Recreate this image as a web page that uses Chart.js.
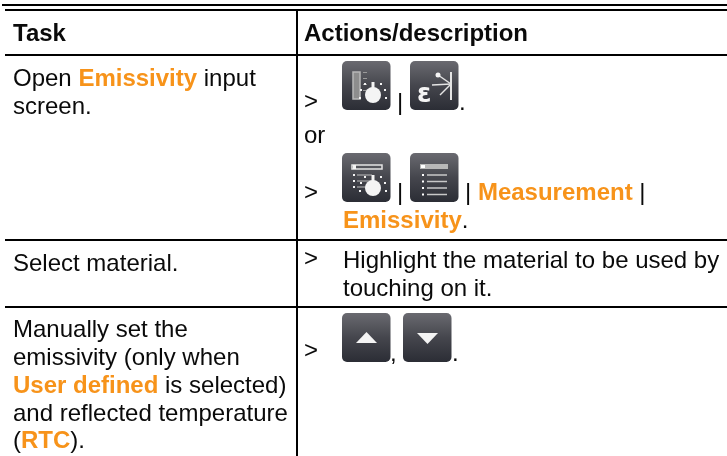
<!DOCTYPE html>
<html>
<head>
<meta charset="utf-8">
<style>
  html, body { margin: 0; padding: 0; background: #fff; }
  canvas { display: block; }
</style>
<script src="https://cdn.jsdelivr.net/npm/chart.js@4"></script>
</head>
<body>
<canvas id="tableChart" width="727" height="456"></canvas>
<script>
// Table content. Each line is a list of [text, style] runs: n = normal, h = header, o = orange bold
const tableLines = [
  [['Task', 'h']],
  [['Actions/description', 'h']],
  [['Open ', 'n'], ['Emissivity', 'o'], [' input', 'n']],
  [['screen.', 'n']],
  [['>', 'n']],
  [['|', 'n']],
  [['.', 'n']],
  [['or', 'n']],
  [['>', 'n']],
  [['|', 'n']],
  [['| ', 'n'], ['Measurement', 'o'], [' |', 'n']],
  [['Emissivity', 'o'], ['.', 'n']],
  [['Select material.', 'n']],
  [['>', 'n']],
  [['Highlight the material to be used by', 'n']],
  [['touching on it.', 'n']],
  [['Manually set the', 'n']],
  [['emissivity (only when', 'n']],
  [['User defined', 'o'], [' is selected)', 'n']],
  [['and reflected temperature', 'n']],
  [['(', 'n'], ['RTC', 'o'], [').', 'n']],
  [['>', 'n']],
  [[',', 'n']],
  [['.', 'n']]
];

// Where each table line starts (same order as tableLines)
const lineX = [13, 304, 13, 13, 304, 397, 459, 304, 304, 397, 465, 343, 13, 304, 343, 343, 13, 13, 13, 13, 13, 304, 390, 452];
const lineY = [41, 41, 86, 114, 109, 110, 110, 143, 200, 200, 200, 228, 271, 266, 268, 296, 337, 365, 393, 421, 448, 358, 361, 361];

// Table rules
const ruleNames = ['outer', 'top', 'header', 'row1', 'row2', 'column'];
const ruleX = [[2, 727], [5, 727], [5, 727], [5, 727], [5, 727], [297, 297]];
const ruleY = [[5, 5], [10, 10], [55, 55], [240, 240], [307, 307], [10, 456]];

// Button icons
const iconKinds = ['scale', 'emissivity', 'settings', 'list', 'up', 'down'];
const iconX = [342, 410, 342, 410, 342, 403];
const iconY = [61, 61, 153, 153, 313, 313];

const ORANGE = '#f7931a';
const FONT = '"Liberation Sans", Arial, sans-serif';

function setRunFont(ctx, style) {
  if (style === 'h') ctx.font = 'bold 24px ' + FONT;
  else if (style === 'o') ctx.font = 'bold 24px ' + FONT;
  else ctx.font = '24px ' + FONT;
  ctx.fillStyle = style === 'o' ? ORANGE : '#0a0a0a';
}

function drawGlyph(ctx, kind) {
  ctx.strokeStyle = '#e4e4e4';
  ctx.fillStyle = '#f4f4f4';
  ctx.lineWidth = 1.5;
  const line = (x1, y1, x2, y2) => { ctx.beginPath(); ctx.moveTo(x1, y1); ctx.lineTo(x2, y2); ctx.stroke(); };
  const dial = (cx, cy) => {
    ctx.beginPath(); ctx.arc(cx, cy, 8, 0, Math.PI * 2); ctx.fill();
    ctx.fillRect(cx - 1.5, cy - 13, 3, 8);
    for (const [dx, dy] of [[-12, -5], [12, -5], [-13, 3], [13, 3], [-8, -11], [8, -11]]) {
      ctx.fillRect(cx + dx - 1, cy + dy - 1, 2, 2);
    }
  };
  if (kind === 'scale') {
    ctx.fillStyle = '#8d8d8d';
    ctx.fillRect(11, 11, 7, 27);
    ctx.strokeStyle = '#b8b8b8';
    ctx.strokeRect(11, 11, 7, 27);
    ctx.fillStyle = '#9a9a9a';
    for (let i = 0; i < 4; i++) ctx.fillRect(21, 11 + i * 6, 4, 1);
    ctx.fillStyle = '#f4f4f4';
    dial(31, 34);
  } else if (kind === 'emissivity') {
    ctx.lineWidth = 2;
    line(41, 11, 41, 39);
    ctx.lineWidth = 1.5;
    line(41, 23, 22, 24);
    line(41, 23, 28, 14);
    line(41, 23, 30, 34);
    ctx.beginPath(); ctx.arc(28, 14, 2.5, 0, Math.PI * 2); ctx.fill();
    ctx.font = 'bold 26px "DejaVu Sans", sans-serif';
    ctx.fillText('\u03b5', 7, 41);
  } else if (kind === 'settings') {
    ctx.strokeRect(10, 12, 30, 4);
    ctx.fillRect(11, 12, 3, 4);
    ctx.strokeStyle = '#bdbdbd';
    ctx.lineWidth = 1;
    for (let i = 0; i < 3; i++) {
      ctx.fillRect(11, 21 + i * 6, 2, 2);
      line(15, 22 + i * 6, 30, 22 + i * 6);
    }
    dial(31, 35);
  } else if (kind === 'list') {
    ctx.fillStyle = '#b8b8b8';
    ctx.fillRect(10, 11, 28, 5);
    ctx.fillStyle = '#ffffff';
    ctx.fillRect(11, 12, 4, 3);
    ctx.strokeStyle = '#c8c8c8';
    ctx.lineWidth = 1.5;
    for (let i = 0; i < 4; i++) {
      ctx.fillRect(12, 21 + i * 6.5, 2, 2);
      line(17, 22 + i * 6.5, 37, 22 + i * 6.5);
    }
  } else {
    const tip = kind === 'up' ? 19 : 31;
    const base = kind === 'up' ? 30 : 20;
    ctx.beginPath();
    ctx.moveTo(14, base); ctx.lineTo(35, base); ctx.lineTo(24.5, tip);
    ctx.closePath();
    ctx.fill();
  }
}

function drawIcon(ctx, kind, x, y) {
  const w = 48.5, h = 49;
  const grad = ctx.createLinearGradient(0, y, 0, y + h);
  grad.addColorStop(0, '#6a6a70');
  grad.addColorStop(0.5, '#45464d');
  grad.addColorStop(1, '#2b2d35');
  ctx.save();
  ctx.fillStyle = grad;
  ctx.beginPath();
  ctx.roundRect(x, y, w, h, 5);
  ctx.fill();
  ctx.translate(x, y);
  ctx.filter = 'blur(0.6px)';
  drawGlyph(ctx, kind);
  ctx.restore();
}

const tablePlugin = {
  id: 'tablePlugin',
  afterDatasetsDraw(chart) {
    const ctx = chart.ctx;
    const sx = chart.scales.x, sy = chart.scales.y;
    iconKinds.forEach((kind, i) => {
      drawIcon(ctx, kind, sx.getPixelForValue(iconX[i]), sy.getPixelForValue(iconY[i]));
    });
    ctx.save();
    ctx.textBaseline = 'alphabetic';
    ctx.textAlign = 'left';
    tableLines.forEach((runs, i) => {
      let x = sx.getPixelForValue(lineX[i]);
      const y = sy.getPixelForValue(lineY[i]);
      runs.forEach(([text, style]) => {
        setRunFont(ctx, style);
        ctx.fillText(text, x, y);
        x += ctx.measureText(text).width;
      });
    });
    ctx.restore();
  }
};

const chart = new Chart(document.getElementById('tableChart').getContext('2d'), {
  type: 'scatter',
  data: {
    datasets: ruleNames.map((name, i) => ({
      label: name,
      data: ruleX[i].map((x, j) => ({ x: x, y: ruleY[i][j] })),
      showLine: true,
      borderColor: '#000000',
      borderWidth: 2,
      pointRadius: 0,
      clip: false
    }))
  },
  options: {
    responsive: false,
    animation: false,
    layout: { padding: 0 },
    plugins: { legend: { display: false }, tooltip: { enabled: false } },
    scales: {
      x: { type: 'linear', min: 0, max: 727, display: false },
      y: { type: 'linear', min: 0, max: 456, reverse: true, display: false }
    }
  },
  plugins: [tablePlugin]
});
</script>
</body>
</html>
